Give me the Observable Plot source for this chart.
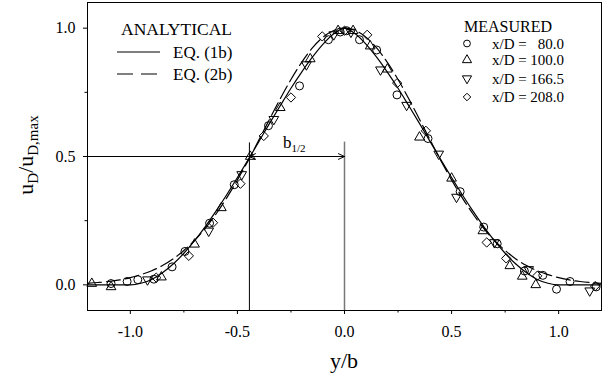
<!DOCTYPE html>
<html><head><meta charset="utf-8">
<script src="https://cdn.jsdelivr.net/npm/d3@7"></script>
<script src="https://cdn.jsdelivr.net/npm/@observablehq/plot@0.6"></script>
<style>
body{margin:0;background:#fff;}
#chart svg, #chart svg text{font-family:"Liberation Serif","Times New Roman",serif !important;}
</style></head><body><div id="chart"></div>
<script>
// analytical curves
const xGrid = [-1.2,-1.15,-1.1,-1.05,-1.0,-0.95,-0.9,-0.85,-0.8,-0.75,-0.7,-0.65,-0.6,-0.55,-0.5,-0.45,-0.4,-0.35,-0.3,-0.25,-0.2,-0.15,-0.1,-0.05,0,
  0.05,0.1,0.15,0.2,0.25,0.3,0.35,0.4,0.45,0.5,0.55,0.6,0.65,0.7,0.75,0.8,0.85,0.9,0.95,1.0,1.05,1.1,1.15,1.2];
const eq1b = [0,0,0,0,0,0.006,0.021,0.047,0.081,0.123,0.172,0.227,0.287,0.351,0.418,0.487,0.558,0.629,0.698,0.766,0.829,0.887,0.938,0.978,1,
  0.978,0.938,0.887,0.829,0.766,0.698,0.629,0.558,0.487,0.418,0.351,0.287,0.227,0.172,0.123,0.081,0.047,0.021,0.006,0,0,0,0,0];
const eq2b = [0.006,0.009,0.013,0.019,0.028,0.040,0.055,0.075,0.101,0.134,0.173,0.220,0.276,0.339,0.409,0.484,0.564,0.645,0.725,0.800,0.867,0.923,0.965,0.991,1,
  0.991,0.965,0.923,0.867,0.800,0.725,0.645,0.564,0.484,0.409,0.339,0.276,0.220,0.173,0.134,0.101,0.075,0.055,0.040,0.028,0.019,0.013,0.009,0.006];

// measured points
const circ80 = [[-1.09,0.005],[-1.015,0.013],[-0.965,0.02],[-0.89,0.022],[-0.805,0.07],[-0.745,0.13],[-0.63,0.24],[-0.515,0.39],[-0.355,0.62],[-0.21,0.775],[-0.075,0.955],[-0.02,0.985],[0.01,0.99],[0.07,0.955],[0.15,0.915],[0.245,0.74],[0.39,0.57],[0.54,0.363],[0.65,0.225],[0.713,0.16],[0.84,0.054],[0.926,0.037],[0.99,-0.017],[1.053,0.013],[1.175,-0.008]];
const tri100 = [[-1.18,0.005],[-1.09,-0.008],[-0.855,0.03],[-0.70,0.158],[-0.575,0.30],[-0.44,0.50],[-0.30,0.69],[-0.16,0.88],[-0.03,0.99],[0.04,0.99],[0.12,0.93],[0.2,0.84],[0.35,0.575],[0.50,0.415],[0.646,0.21],[0.772,0.074],[0.83,0.033],[0.893,0.0]];
const triDown166 = [[-0.92,0.02],[-0.634,0.21],[-0.48,0.43],[-0.33,0.645],[-0.178,0.858],[-0.05,0.975],[0.03,0.985],[0.168,0.838],[0.29,0.70],[0.44,0.51],[0.523,0.342],[0.70,0.165],[0.86,0.06],[1.145,-0.023]];
const diam208 = [[-0.879,0.028],[-0.727,0.113],[-0.614,0.242],[-0.486,0.394],[-0.377,0.58],[-0.25,0.73],[-0.104,0.968],[0.0,0.99],[0.106,0.974],[0.246,0.786],[0.38,0.60],[0.664,0.165],[0.755,0.103],[0.90,0.035],[1.17,-0.005]];

const seriesLabels = ["80.0","100.0","166.5","208.0"];
const xTicks = [-1,-0.5,0,0.5,1];
const xMinor = [-0.75,-0.25,0.25,0.75];
const yTicks = [0,0.5,1];
const yMinor = [0.25,0.75];
const bHalf = -0.444;
const halfLevel = 0.5;

const triangleDown = {
  draw(context, size) {
    const y = -Math.sqrt(size / (Math.sqrt(3) * 3));
    context.moveTo(0, -y * 2);
    context.lineTo(-Math.sqrt(3) * y, y);
    context.lineTo(Math.sqrt(3) * y, y);
    context.closePath();
  }
};

const curve1 = xGrid.map((x, i) => ({x, v: eq1b[i]}));
const curve2 = xGrid.map((x, i) => ({x, v: eq2b[i]}));
const px = d => d[0], py = d => d[1];
const dotOpts = {x: px, y: py, fill: "none", stroke: "black", strokeWidth: 1};
const FONT = "'Liberation Serif', 'Times New Roman', serif";

const plot = Plot.plot({
  width: 604, height: 381,
  marginLeft: 87, marginRight: 3, marginTop: 2, marginBottom: 71,
  style: {fontFamily: FONT, fontSize: "16px", background: "white"},
  x: {domain: [-1.2, 1.2], axis: null},
  y: {domain: [-0.1, 1.1], axis: null},
  marks: [
    Plot.axisX({ticks: xTicks, tickSize: 4, tickPadding: 11, tickFormat: d => d.toFixed(1), fontSize: 16, label: null}),
    Plot.axisX({ticks: xMinor, tickSize: 2.5, tickFormat: () => "", label: null}),
    Plot.axisY({ticks: yTicks, tickSize: 4, tickPadding: 8, tickFormat: d => d.toFixed(1), fontSize: 16, label: null}),
    Plot.axisY({ticks: yMinor, tickSize: 2.5, tickFormat: () => "", label: null}),
    Plot.ruleX([0], {y1: -0.1, y2: 0.556, stroke: "#777", strokeWidth: 1.5}),
    Plot.ruleX([bHalf], {y1: -0.1, y2: 0.553, stroke: "black", strokeWidth: 1}),
    Plot.ruleY([halfLevel], {x1: -1.2, x2: bHalf, stroke: "black", strokeWidth: 1}),
    Plot.arrow([{a: bHalf / 2, b: bHalf}, {a: bHalf / 2, b: 0}], {x1: "a", x2: "b", y1: () => halfLevel, y2: () => halfLevel, stroke: "black", strokeWidth: 1, headLength: 10, headAngle: 50}),
    Plot.line(curve1, {x: "x", y: "v", stroke: "black", strokeWidth: 1.2, curve: "monotone-x"}),
    Plot.line(curve2, {x: "x", y: "v", stroke: "black", strokeWidth: 1.2, strokeDasharray: "14,5", curve: "monotone-x"}),
    Plot.dot(circ80, {...dotOpts, symbol: "circle", r: 4}),
    Plot.dot(tri100, {...dotOpts, symbol: "triangle", r: 3.6}),
    Plot.dot(triDown166, {...dotOpts, symbol: triangleDown, r: 3.6}),
    Plot.dot(diam208, {...dotOpts, symbol: "diamond2", r: 4.2}),
    Plot.frame({stroke: "black", strokeWidth: 1})
  ]
});
document.getElementById("chart").appendChild(plot);

const svg = d3.select(plot);
const sx = plot.scale("x"), sy = plot.scale("y");

const addText = (sel, x, y, size, anchor) => sel.append("text")
  .attr("x", x).attr("y", y).attr("font-size", size)
  .attr("text-anchor", anchor).attr("font-family", FONT).attr("fill", "black");

// axis titles
const yl = svg.append("text").attr("transform", "translate(33,155) rotate(-90)")
  .attr("text-anchor", "middle").attr("font-family", FONT).attr("font-size", 22).attr("fill", "black");
yl.append("tspan").text("u");
yl.append("tspan").attr("dy", 5).attr("font-size", 15).text("D");
yl.append("tspan").attr("dy", -5).text("/u");
yl.append("tspan").attr("dy", 5).attr("font-size", 15).text("D,max");

addText(svg, 344, 368, 22, "middle").text("y/b");

// b1/2 label
const bl = addText(svg, sx.apply(-0.285), sy.apply(0.532), 17, "start");
bl.append("tspan").text("b");
bl.append("tspan").attr("dy", 4).attr("font-size", 11).text("1/2");

// analytical legend
const lg = svg.append("g");
addText(lg, 121, 35, 17.5, "start").text("ANALYTICAL");
lg.append("line").attr("x1", 117).attr("x2", 160).attr("y1", 52).attr("y2", 52).attr("stroke", "black").attr("stroke-width", 1.2);
lg.append("line").attr("x1", 117).attr("x2", 160).attr("y1", 74).attr("y2", 74).attr("stroke", "black").attr("stroke-width", 1.2).attr("stroke-dasharray", "16,8");
addText(lg, 173, 57.5, 17, "start").text("EQ. (1b)");
addText(lg, 173, 80, 17, "start").text("EQ. (2b)");

// measured legend
addText(lg, 464, 31.5, 16, "start").text("MEASURED");
const syms = [d3.symbolCircle, d3.symbolTriangle, triangleDown, d3.symbolDiamond2];
const rowY = [43.5, 60, 78.5, 97];
seriesLabels.forEach((lab, i) => {
  lg.append("path").attr("d", d3.symbol(syms[i], Math.PI * 3.4 * 3.4)())
    .attr("transform", `translate(467,${rowY[i]})`).attr("fill", "none").attr("stroke", "black");
  addText(lg, 492, rowY[i] + 5, 15, "start").text("x/D =");
  addText(lg, 564, rowY[i] + 5, 15, "end").text(lab);
});
</script></body></html>
